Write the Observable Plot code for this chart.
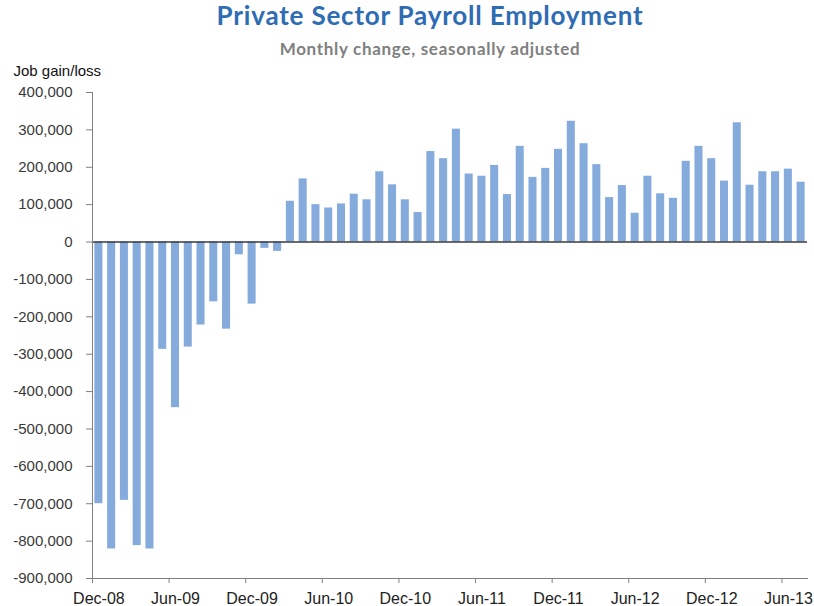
<!DOCTYPE html>
<html><head><meta charset="utf-8">
<script src="https://cdn.jsdelivr.net/npm/d3@7"></script>
<script src="https://cdn.jsdelivr.net/npm/@observablehq/plot@0.6"></script>
<style>
body{margin:0;background:#fff;width:814px;height:606px;overflow:hidden}
#title{font-family:Lato,sans-serif;font-weight:bold;font-size:26px;letter-spacing:0.8px;color:#2e6cb3;text-align:center;line-height:30px;height:30px;padding-left:46px}
#subtitle{font-family:Lato,sans-serif;font-weight:bold;font-size:17px;letter-spacing:0.7px;color:#808080;text-align:center;line-height:26px;height:26px;margin-top:6px;padding-left:46px}
#chart svg{display:block}
</style></head><body>
<div id="title">Private Sector Payroll Employment</div>
<div id="subtitle">Monthly change, seasonally adjusted</div>
<div id="chart"></div>
<script>
const months = ["Dec-08","Jan-09","Feb-09","Mar-09","Apr-09","May-09","Jun-09","Jul-09","Aug-09","Sep-09","Oct-09","Nov-09",
"Dec-09","Jan-10","Feb-10","Mar-10","Apr-10","May-10","Jun-10","Jul-10","Aug-10","Sep-10","Oct-10","Nov-10",
"Dec-10","Jan-11","Feb-11","Mar-11","Apr-11","May-11","Jun-11","Jul-11","Aug-11","Sep-11","Oct-11","Nov-11",
"Dec-11","Jan-12","Feb-12","Mar-12","Apr-12","May-12","Jun-12","Jul-12","Aug-12","Sep-12","Oct-12","Nov-12",
"Dec-12","Jan-13","Feb-13","Mar-13","Apr-13","May-13","Jun-13","Jul-13"];
const values = [-700000,-821000,-691000,-812000,-821000,-287000,-443000,-281000,-222000,-160000,-233000,-34000,
-166000,-17000,-25000,109000,169000,100000,91000,102000,128000,113000,188000,153000,
113000,79000,242000,223000,302000,182000,176000,205000,127000,256000,173000,197000,
248000,323000,263000,207000,119000,151000,77000,176000,129000,117000,216000,256000,
223000,163000,319000,152000,188000,188000,195000,160000];
const tickLabels = ["Dec-08","Jun-09","Dec-09","Jun-10","Dec-10","Jun-11","Dec-11","Jun-12","Dec-12","Jun-13"];
const yTicks = [400000,300000,200000,100000,0,-100000,-200000,-300000,-400000,-500000,-600000,-700000,-800000,-900000];
const yLabel = "Job gain/loss";

const data = months.map((m,i)=>({month:m, value:values[i]}));
const fmt = d => (d<0?"-":"") + d3.format(",")(Math.abs(d));
const W=814, H=544, mL=92, mR=7, mT=30, mB=28;
const step = (W-mL-mR)/months.length;

const chart = Plot.plot({
  width:W, height:H, marginLeft:mL, marginRight:mR, marginTop:mT, marginBottom:mB,
  style:{fontFamily:"'Liberation Sans', Arial, sans-serif", background:"#fff", color:"#333"},
  x:{type:"band", domain:months, paddingInner:0.37, paddingOuter:0.185, label:null},
  y:{domain:[-900000,400000], label:null},
  marks:[
    Plot.barY(data,{x:"month", y:"value", fill:"#85abdd"}),
    Plot.ruleY([0],{stroke:"#3a3a3a", strokeWidth:1.5}),
    Plot.frame({anchor:"left", stroke:"#808080"}),
    Plot.frame({anchor:"bottom", stroke:"#808080"}),
    Plot.axisY({ticks:yTicks, tickSize:6, tickPadding:14, tickFormat:fmt, fontSize:15, fill:"#3a3a3a", stroke:"#808080", label:null, style:"letter-spacing:0.6px"}),
    Plot.axisX({ticks:tickLabels, tickSize:5, tickFormat:()=>"", dx:-step/2, stroke:"#808080", label:null}),
    Plot.axisX({ticks:tickLabels, tickSize:0, tickPadding:14, fontSize:16, fill:"#222", label:null}),
    Plot.text([yLabel],{frameAnchor:"top-left", dx:-79, dy:-17, textAnchor:"start", lineAnchor:"bottom", fontSize:15, fill:"#111"})
  ]
});
document.getElementById("chart").appendChild(chart);
</script>
</body></html>
